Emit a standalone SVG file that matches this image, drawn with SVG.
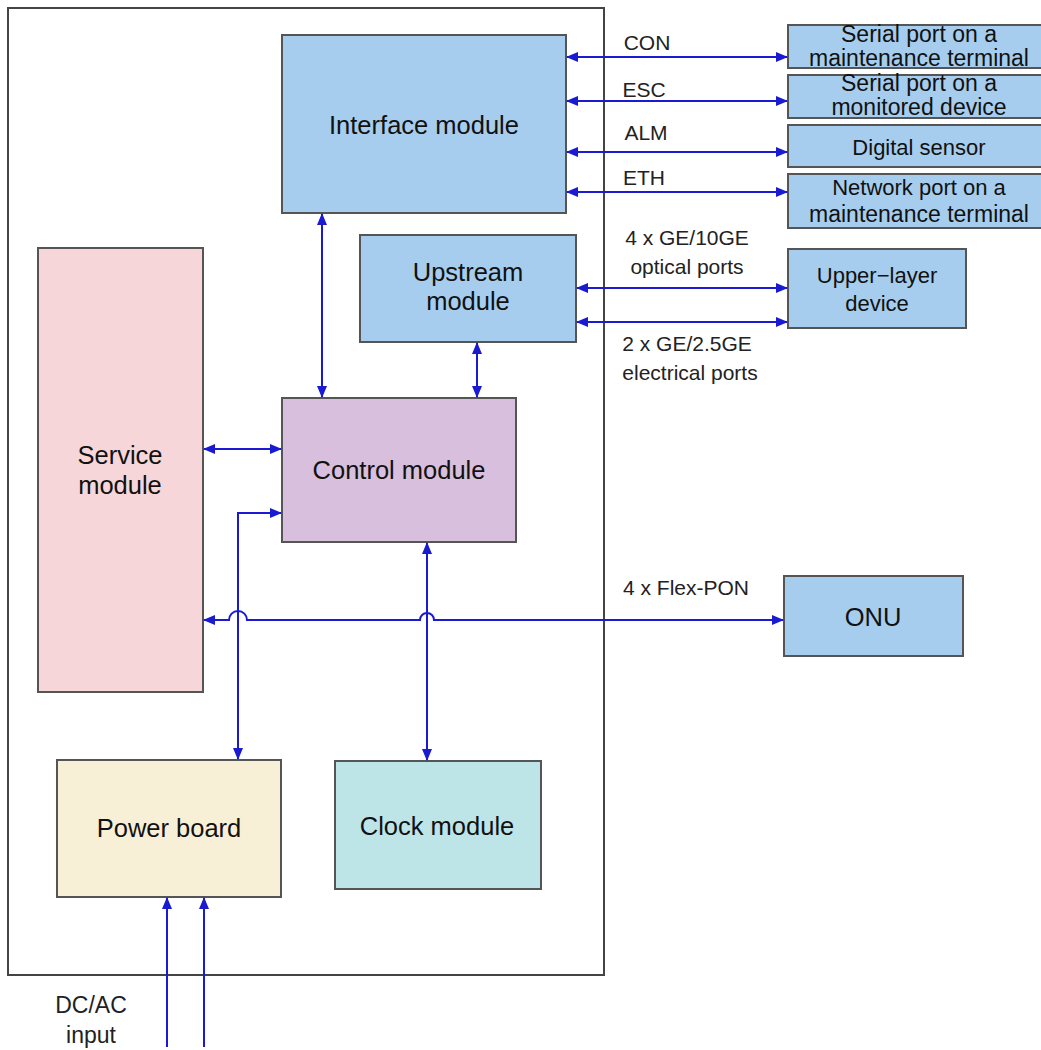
<svg xmlns="http://www.w3.org/2000/svg" width="1041" height="1050" viewBox="0 0 1041 1050">
<defs>
<marker id="ah" viewBox="0 0 12 10" refX="11" refY="5" markerWidth="12" markerHeight="10" markerUnits="userSpaceOnUse" orient="auto-start-reverse">
<path d="M0,0 L12,5 L0,10 z" fill="#1a1ad0"/>
</marker>
</defs>
<style>
.box{stroke:#555;stroke-width:2}
.blue{fill:#a6cdee}
.t{font-family:"Liberation Sans",Arial,sans-serif;fill:#111;text-anchor:middle}
.n{font-size:25.5px}
.s{font-size:22px}
.r{font-size:23px}
.lb{font-family:"Liberation Sans",Arial,sans-serif;fill:#222;font-size:21px;text-anchor:middle}
.c{fill:none;stroke:#1a1ad0;stroke-width:2}
</style>
<rect x="0" y="0" width="1041" height="1050" fill="#fff"/>
<g id="chassis"><rect x="8" y="8" width="596" height="967" fill="#fff" stroke="#444" stroke-width="2"/></g>

<g id="interface-module"><rect class="box blue" x="282" y="35" width="284" height="178"/><text class="t n" x="424" y="134">Interface module</text></g>
<g id="upstream-module"><rect class="box blue" x="360" y="235" width="216" height="107"/><text class="t n" x="468" y="281">Upstream</text><text class="t n" x="468" y="310">module</text></g>
<g id="service-module"><rect class="box" fill="#f6d6d9" x="38" y="248" width="165" height="444"/><text class="t n" x="120" y="464">Service</text><text class="t n" x="120" y="494">module</text></g>
<g id="control-module"><rect class="box" fill="#d8bfdd" x="282" y="398" width="234" height="144"/><text class="t n" x="399" y="479">Control module</text></g>
<g id="power-board"><rect class="box" fill="#f8f0d6" x="57" y="760" width="224" height="137"/><text class="t n" x="169" y="837">Power board</text></g>
<g id="clock-module"><rect class="box" fill="#bde5e8" x="335" y="761" width="206" height="128"/><text class="t n" x="437" y="835">Clock module</text></g>
<g id="onu"><rect class="box blue" x="784" y="576" width="179" height="80"/><text class="t n" x="873" y="626">ONU</text></g>
<g id="upper-layer-device"><rect class="box blue" x="788" y="249" width="178" height="79"/><text class="t s" x="877" y="283">Upper−layer</text><text class="t s" x="877" y="311">device</text></g>
<g id="serial-maint"><rect class="box blue" x="788" y="25" width="262" height="43"/><text class="t r" x="919" y="42">Serial port on a</text><text class="t r" x="919" y="66">maintenance terminal</text></g>
<g id="serial-monitored"><rect class="box blue" x="788" y="75" width="262" height="43"/><text class="t r" x="919" y="91">Serial port on a</text><text class="t r" x="919" y="115">monitored device</text></g>
<g id="digital-sensor"><rect class="box blue" x="788" y="125" width="262" height="42"/><text class="t s" x="919" y="155">Digital sensor</text></g>
<g id="network-port"><rect class="box blue" x="788" y="174" width="262" height="54"/><text class="t s" x="919" y="195">Network port on a</text><text class="t r" x="919" y="222">maintenance terminal</text></g>

<g id="connectors">
<line class="c" x1="567" y1="57" x2="787" y2="57" marker-start="url(#ah)" marker-end="url(#ah)"/>
<line class="c" x1="567" y1="101" x2="787" y2="101" marker-start="url(#ah)" marker-end="url(#ah)"/>
<line class="c" x1="567" y1="152" x2="787" y2="152" marker-start="url(#ah)" marker-end="url(#ah)"/>
<line class="c" x1="567" y1="192" x2="787" y2="192" marker-start="url(#ah)" marker-end="url(#ah)"/>
<line class="c" x1="577" y1="288" x2="787" y2="288" marker-start="url(#ah)" marker-end="url(#ah)"/>
<line class="c" x1="577" y1="322" x2="787" y2="322" marker-start="url(#ah)" marker-end="url(#ah)"/>
<line class="c" x1="322" y1="214" x2="322" y2="397" marker-start="url(#ah)" marker-end="url(#ah)"/>
<line class="c" x1="477" y1="343" x2="477" y2="397" marker-start="url(#ah)" marker-end="url(#ah)"/>
<line class="c" x1="204" y1="449" x2="281" y2="449" marker-start="url(#ah)" marker-end="url(#ah)"/>
<path class="c" d="M238,759 L238,513 L281,513" marker-start="url(#ah)" marker-end="url(#ah)"/>
<line class="c" x1="427" y1="543" x2="427" y2="760" marker-start="url(#ah)" marker-end="url(#ah)"/>
<path class="c" d="M204,620 L229,620 A9,9 0 0 1 247,620 L420,620 A7,7 0 0 1 434,620 L783,620" marker-start="url(#ah)" marker-end="url(#ah)"/>
<line class="c" x1="167" y1="1047" x2="167" y2="898" marker-end="url(#ah)"/>
<line class="c" x1="204" y1="1047" x2="204" y2="898" marker-end="url(#ah)"/>
</g>

<g id="labels">
<text class="lb" x="647" y="50">CON</text>
<text class="lb" x="644" y="97">ESC</text>
<text class="lb" x="646" y="140">ALM</text>
<text class="lb" x="644" y="185">ETH</text>
<text class="lb" x="687" y="245">4 x GE/10GE</text>
<text class="lb" x="687" y="274">optical ports</text>
<text class="lb" x="687" y="351">2 x GE/2.5GE</text>
<text class="lb" x="690" y="380">electrical ports</text>
<text class="lb" x="686" y="595">4 x Flex-PON</text>
<text class="lb" x="91" y="1013" style="font-size:23px">DC/AC</text>
<text class="lb" x="91" y="1043" style="font-size:23px">input</text>
</g>
</svg>
